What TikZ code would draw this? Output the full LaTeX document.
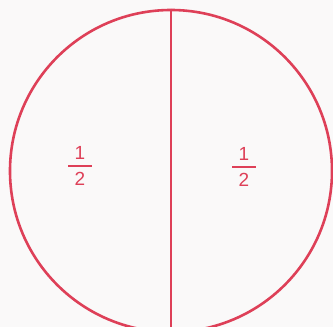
\documentclass[tikz,border=0pt]{standalone}
\usepackage{fontspec}
\setsansfont{Liberation Sans}
\usepackage{tikz}
\usetikzlibrary{calc}

\definecolor{penred}{RGB}{222,64,88}
\definecolor{paper}{RGB}{250,249,249}

\tikzset{
  digit/.style={text=penred, font=\sffamily\fontsize{19}{19}\selectfont, inner sep=0pt, anchor=base},
  bar/.style={penred, line width=1.5pt}
}

\begin{document}
\begin{tikzpicture}[x=1pt,y=-1pt]

% Page
\fill[paper] (0,0) rectangle (333,327);
\useasboundingbox (0,0) rectangle (333,327);
\clip (0,0) rectangle (333,327);

% Circle
\node[draw=penred, line width=2.6pt, circle, minimum size=322pt, inner sep=0pt] (disc) at (171,171) {};

% Dividing line
\draw[penred, line width=1.8pt] (disc.north) -- (disc.south);

% Left half
\node[digit] (lnum) at (80,159) {1};
\node[digit] (lden) at (80,185) {2};
\draw[bar] ($(lnum.base)+(-12,7)$) -- ($(lnum.base)+(12,7)$);

% Right half
\node[digit] (rnum) at (244,160) {1};
\node[digit] (rden) at (244,186) {2};
\draw[bar] ($(rnum.base)+(-12,7)$) -- ($(rnum.base)+(12,7)$);

\end{tikzpicture}
\end{document}
